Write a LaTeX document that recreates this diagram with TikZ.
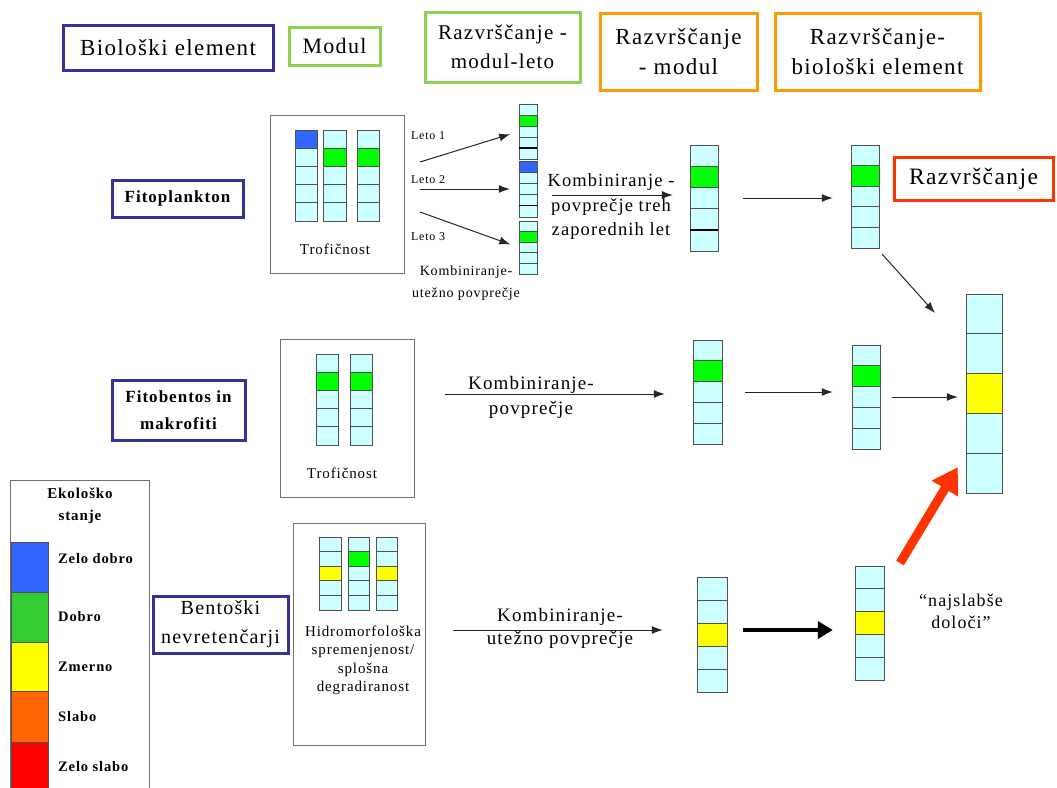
\documentclass[tikz,border=0pt]{standalone}
\usepackage{fontspec}
\setmainfont{Liberation Serif}[LetterSpace=6]
\usetikzlibrary{arrows.meta,fit,calc}
\definecolor{cy}{HTML}{CCFFFF}
\definecolor{gr}{HTML}{00FF00}
\definecolor{bl}{HTML}{3366FF}
\definecolor{ye}{HTML}{FFFF00}
\definecolor{bioblue}{HTML}{333399}
\definecolor{modgreen}{HTML}{92D050}
\definecolor{modorange}{HTML}{FF9900}
\definecolor{razred}{HTML}{FF3300}
\definecolor{lgblue}{HTML}{3366FF}
\definecolor{lggreen}{HTML}{33CC33}
\definecolor{lgorange}{HTML}{FF6600}
\definecolor{lgred}{HTML}{FF0000}
\definecolor{cellline}{HTML}{505050}
\definecolor{boxgray}{HTML}{707070}
\newcommand{\fsz}[2]{\fontsize{#1}{#2}\selectfont}
\newcommand{\cellstack}[6]{%
  \node[fit={(#2,#4) (#3,#5)}, inner sep=0pt] (#1) {};
  \foreach \c [count=\i from 0] in {#6} {%
    \pgfmathsetmacro\ya{#4+\i*(#5-#4)/5}%
    \pgfmathsetmacro\yb{#4+(\i+1)*(#5-#4)/5}%
    \draw[cellbox, fill=\c] (#2,\ya) rectangle (#3,\yb);
  }%
}
\tikzset{
  cellbox/.style={draw=cellline, line width=0.8pt},
  hdr/.style={draw, line width=3pt, align=center, inner sep=0pt, fill=white},
  modbox/.style={draw=boxgray, line width=0.9pt},
  arr/.style={-{Latex[length=11pt,width=8pt]}, line width=1pt, draw=black!85},
  thickarr/.style={-{Triangle[length=15pt,width=17pt]}, line width=4pt, draw=black},
  redarr/.style={-{Triangle[length=25pt,width=29pt]}, line width=9pt, draw=razred},
  lbl/.style={inner sep=0pt, align=center},
}
\begin{document}
\begin{tikzpicture}[x=1pt,y=-1pt]
\useasboundingbox[fill=white] (0,0) rectangle (1057,787);

% header boxes
\node[hdr, draw=bioblue, minimum width=210pt, minimum height=45pt, font=\fsz{23}{28}] (hbio) at (168,47.5) {Biološki element};
\node[hdr, draw=modgreen, minimum width=91pt, minimum height=38pt, font=\fsz{22}{28}] (hmod) at (334.5,46) {Modul};
\node[hdr, draw=modgreen, minimum width=155pt, minimum height=70pt, font=\fsz{21}{29}] (hrml) at (502.5,47) {Razvrščanje -\\modul-leto};
\node[hdr, draw=modorange, minimum width=157pt, minimum height=77pt, font=\fsz{23}{30}] (hrm) at (678.5,51.5) {Razvrščanje\\- modul};
\node[hdr, draw=modorange, minimum width=205pt, minimum height=77pt, font=\fsz{23}{30}] (hrb) at (877.5,51.5) {Razvrščanje-\\biološki element};
\node[hdr, draw=razred, minimum width=159pt, minimum height=43pt, font=\fsz{23.5}{28}] (hraz) at (973.5,178.5) {Razvrščanje};

% biological elements
\node[hdr, draw=bioblue, minimum width=131pt, minimum height=37pt, font=\bfseries\fsz{17}{22}] (efit) at (177.5,198.5) {Fitoplankton};
\node[hdr, draw=bioblue, minimum width=133pt, minimum height=60pt, font=\bfseries\fsz{17}{27}] (efb) at (178.5,410) {Fitobentos in\\makrofiti};
\node[hdr, draw=bioblue, minimum width=135pt, minimum height=57pt, font=\fsz{20}{29}] (ebn) at (220.5,624.5) {Bentoški\\nevretenčarji};

% legend
\draw[modbox] (10,800) -- (10,480) -- (149,480) -- (149,800);
\node[lbl, font=\bfseries\fsz{15}{22}] (lgt) at (80,506) {Ekološko\\stanje};
\draw[cellbox, fill=lgblue] (11,542) rectangle (48,592);
\draw[cellbox, fill=lggreen] (11,592) rectangle (48,642);
\draw[cellbox, fill=ye] (11,642) rectangle (48,691);
\draw[cellbox, fill=lgorange] (11,691) rectangle (48,742);
\draw[cellbox, fill=lgred] (11,742) rectangle (48,800);
\node[lbl, anchor=west, font=\bfseries\fsz{14.5}{18}] (lg1) at (58,559) {Zelo dobro};
\node[lbl, anchor=west, font=\bfseries\fsz{14.5}{18}] (lg2) at (58,617) {Dobro};
\node[lbl, anchor=west, font=\bfseries\fsz{14.5}{18}] (lg3) at (58,667) {Zmerno};
\node[lbl, anchor=west, font=\bfseries\fsz{14.5}{18}] (lg4) at (58,717) {Slabo};
\node[lbl, anchor=west, font=\bfseries\fsz{14.5}{18}] (lg5) at (58,767) {Zelo slabo};

% module boxes
\node[modbox, draw, fit={(270,115) (404,273)}, inner sep=0pt] (m1) {};
\node[modbox, draw, fit={(280,339) (414,497)}, inner sep=0pt] (m2) {};
\node[modbox, draw, fit={(293,523) (425,745)}, inner sep=0pt] (m3) {};

% row 1
\cellstack{c11}{295}{317}{130}{221}{bl,cy,cy,cy,cy}
\cellstack{c12}{323}{346}{130}{221}{cy,gr,cy,cy,cy}
\cellstack{c13}{357}{379}{130}{221}{cy,gr,cy,cy,cy}
\node[lbl, font=\fsz{15}{18}] (t1) at (335,249) {Trofičnost};
\cellstack{y1}{519}{537}{104}{159}{cy,gr,cy,cy,cy}
\draw[line width=1.4pt] (519,148) -- (537,148);
\cellstack{y2}{519}{537}{161}{217}{bl,cy,cy,cy,cy}
\draw[line width=1.2pt] (519,205.8) -- (537,205.8);
\cellstack{y3}{519}{537}{221}{274}{cy,gr,cy,cy,cy}
\node[lbl, anchor=west, font=\fsz{12}{14}] (leto1) at (411,136) {Leto 1};
\node[lbl, anchor=west, font=\fsz{12}{14}] (leto2) at (411,180) {Leto 2};
\node[lbl, anchor=west, font=\fsz{12}{14}] (leto3) at (411,237) {Leto 3};
\coordinate (a1s) at (420,162);
\coordinate (a2s) at (420,189);
\coordinate (a3s) at (420,212);
\draw[arr, shorten >=9pt] (a1s) -- (y1.west);
\draw[arr, shorten >=9pt] (a2s) -- (y2.west);
\draw[arr, shorten >=9pt] (a3s) -- (y3.west);
\node[lbl, font=\fsz{14}{22}] (kw1) at (466,283) {Kombiniranje-\\utežno povprečje};
\cellstack{mc1}{690}{718}{145}{251}{cy,gr,cy,cy,cy}
\draw[line width=1.4pt] (690,229.8) -- (718,229.8);
\coordinate (k1s) at (552,195);
\draw[arr, shorten >=17pt] (k1s) -- (k1s -| mc1.west);
\node[lbl, font=\fsz{18.5}{24.5}] (kp1) at (611,207) {Kombiniranje -\\povprečje treh\\zaporednih let};
\cellstack{bc1}{851}{879}{145}{248}{cy,gr,cy,cy,cy}
\draw[arr, shorten <=25pt, shorten >=18pt] (mc1.east) -- (mc1.east -| bc1.west);

% final
\cellstack{fc}{966}{1002}{294}{493}{cy,cy,ye,cy,cy}
\coordinate (d1) at (935,313);
\draw[arr] ($(bc1.south east)+(3,6)$) -- (d1);

% row 2
\cellstack{c21}{316}{338}{354}{445}{cy,gr,cy,cy,cy}
\cellstack{c22}{350}{372}{354}{445}{cy,gr,cy,cy,cy}
\node[lbl, font=\fsz{15}{18}] (t2) at (342,473) {Trofičnost};
\cellstack{mc2}{693}{722}{340}{444}{cy,gr,cy,cy,cy}
\coordinate (k2s) at (445,394);
\draw[arr, shorten >=28pt] (k2s) -- (k2s -| mc2.west);
\node[lbl, font=\fsz{19}{25}] (kp2) at (531,397) {Kombiniranje-\\povprečje};
\cellstack{bc2}{852}{880}{345}{449}{cy,gr,cy,cy,cy}
\draw[arr, shorten <=23pt, shorten >=19pt] (mc2.east) -- (mc2.east -| bc2.west);
\draw[arr, shorten <=12pt, shorten >=8pt] (bc2.east) -- (bc2.east -| fc.west);

% row 3
\cellstack{c31}{319}{341}{537}{610}{cy,cy,ye,cy,cy}
\cellstack{c32}{348}{369}{537}{610}{cy,gr,cy,cy,cy}
\cellstack{c33}{376}{397}{537}{610}{cy,cy,ye,cy,cy}
\node[lbl, font=\fsz{15}{18.5}] (t3) at (363,660.5) {Hidromorfološka\\spremenjenost/\\splošna\\degradiranost};
\cellstack{mc3}{697}{727}{577}{692}{cy,cy,ye,cy,cy}
\coordinate (k3s) at (453,630);
\draw[arr, shorten >=34pt] (k3s) -- (k3s -| mc3.west);
\node[lbl, font=\fsz{19}{23}] (kw3) at (560,628.5) {Kombiniranje-\\utežno povprečje};
\cellstack{bc3}{855}{884}{566}{680}{cy,cy,ye,cy,cy}
\draw[thickarr, shorten <=16pt, shorten >=22pt] (k3s -| mc3.east) -- (k3s -| bc3.west);
\coordinate (rs) at (900,563);
\draw[redarr] (rs) -- ($(fc.south west)+(-8,-26)$);
\node[lbl, font=\fsz{18}{22}] (najs) at (961,611) {“najslabše\\določi”};
\end{tikzpicture}
\end{document}
